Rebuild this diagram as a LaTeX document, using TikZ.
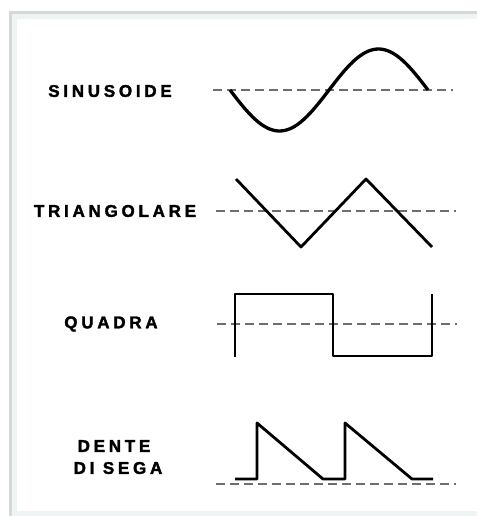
\documentclass[tikz,border=0pt]{standalone}
\usepackage{fontspec}
\usepackage{xcolor}
\usepackage{tikz}
\usetikzlibrary{positioning, calc}
\newfontfamily\labelfont[LetterSpace=22, BoldFeatures={FakeBold=2}]{Liberation Sans}
\definecolor{FrameGray}{RGB}{238,243,243}
\definecolor{ShadeGray}{RGB}{214,216,216}
\definecolor{AxisGray}{RGB}{110,110,110}

\begin{document}
\begin{tikzpicture}[
    x=1pt, y=-1pt,
    label/.style={inner sep=0pt, align=center,
                  font=\labelfont\bfseries\fontsize{17}{20}\selectfont},
    axis/.style={draw=AxisGray, line width=1.8pt, dash pattern=on 9pt off 5pt},
    wave/.style={draw=black, line width=2.8pt, line join=round}
]
\useasboundingbox (0,0) rectangle (477,516);

% panel
\fill[white] (0,0) rectangle (477,516);
\fill[ShadeGray] (9,11) rectangle (477,516);
\fill[FrameGray] (12,14) rectangle (477,516);
\fill[white] (17,19) rectangle (477,511);

% labels
\node[label] (sin)   at (110,91)  {SINUSOIDE};
\node[label] (tri)   at (115,211) {TRIANGOLARE};
\node[label] (sq)    at (111,324) {QUADRA};
\node[label] (dente) at (114,446) {DENTE};
\node[label] (sega)  at (118,468) {DI SEGA};

% axes
\coordinate (sinA) at (213,90);  \coordinate (sinB) at (453,90);
\coordinate (triA) at (216,211); \coordinate (triB) at (456,211);
\coordinate (sqA)  at (217,324); \coordinate (sqB)  at (457,324);
\coordinate (sawA) at (216,484); \coordinate (sawB) at (456,484);
\draw[axis] (sinA) -- (sinB);
\draw[axis] (triA) -- (triB);
\draw[axis] (sqA) -- (sqB);
\draw[axis] (sawA) -- (sawB);

% waves
\draw[wave, line width=3.3pt] plot[domain=230:428, samples=80]
    (\x, {90 + 41*sin((\x-230)/198*360)});
\draw[wave] (236,179) -- (301,247) -- (366,179) -- (432,247);
\draw[wave] (235,357) -- (235,294) -- (333,294) -- (333,356) -- (432,356) -- (432,294);
\draw[wave] (235,479) -- (257,479) -- (257,423) -- (323,479) -- (345,479)
    -- (345,423) -- (412,479) -- (433,479);

\end{tikzpicture}
\end{document}
